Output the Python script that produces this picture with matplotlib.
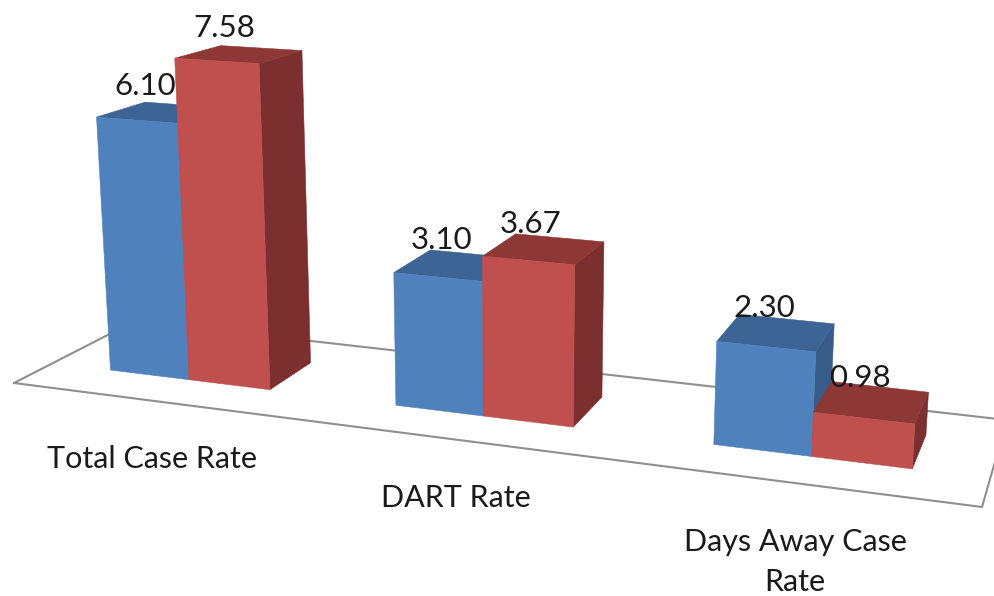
import numpy as np
import matplotlib.pyplot as plt

categories = ['Total Case Rate', 'DART Rate', 'Days Away Case\nRate']
series_a = [6.10, 3.10, 2.30]
series_b = [7.58, 3.67, 0.98]

blue = {'front': '#4F81BD', 'top': '#3C6494', 'side': '#375C88'}
red = {'front': '#C0504D', 'top': '#8E3836', 'side': '#7B2F2E'}

# camera: floor homography (u across, d into the page) plus a vertical vanishing point
CAMERA = np.array([[813.866401, 136.469881, 14.0],
                   [44.421859, -25.216061, 383.0],
                   [-0.156959, 0.114592, 1.0]])
VANISH = np.array([510.0, 7600.0, 1.0])
RISE = -0.00567

BAR_W = 1 / 3 / 3.5
DEPTH = (0.30, 0.70)


def project(u, d, z=0.0):
    p = CAMERA @ np.array([u, d, 1.0]) + z * RISE * VANISH
    return p[0] / p[2], p[1] / p[2]


def draw_bar(ax, u0, u1, value, colors):
    d0, d1 = DEPTH
    faces = [
        ('side', [(u1, d0, 0), (u1, d1, 0), (u1, d1, value), (u1, d0, value)]),
        ('top', [(u0, d0, value), (u1, d0, value), (u1, d1, value), (u0, d1, value)]),
        ('front', [(u0, d0, 0), (u1, d0, 0), (u1, d0, value), (u0, d0, value)]),
    ]
    for name, corners in faces:
        ax.fill(*zip(*[project(*c) for c in corners]), color=colors[name], lw=0.4, zorder=2)


plt.rcParams['font.family'] = ['Lato', 'DejaVu Sans']
fig = plt.figure(figsize=(9.94, 5.96), dpi=100)
ax = fig.add_axes([0, 0, 1, 1])
ax.set_xlim(0, 994)
ax.set_ylim(596, 0)
ax.axis('off')

floor = [project(*c) for c in [(0, 0), (1, 0), (1, 1), (0, 1), (0, 0)]]
ax.plot(*zip(*floor), color='#8F8F8F', lw=1.5, zorder=1)

for i, name in enumerate(categories):
    mid = (i + 0.5) / 3
    draw_bar(ax, mid - BAR_W, mid, series_a[i], blue)
    draw_bar(ax, mid, mid + BAR_W, series_b[i], red)
    for u, value in [(mid - BAR_W / 2, series_a[i]), (mid + BAR_W / 2, series_b[i])]:
        x, y = project(u, 0.45, value)
        ax.annotate(f'{value:.2f}', (x, y), xytext=(-7, 20), textcoords='offset points',
                    ha='center', va='center', fontsize=22.5, color='#1A1A1A', zorder=3)
    x, y = project(mid, 0)
    ax.annotate(name, (x, y), xytext=(-1, -32), textcoords='offset points',
                ha='center', va='top', fontsize=22, color='#1A1A1A', linespacing=1.55)

fig.savefig('out.png', dpi=100)
